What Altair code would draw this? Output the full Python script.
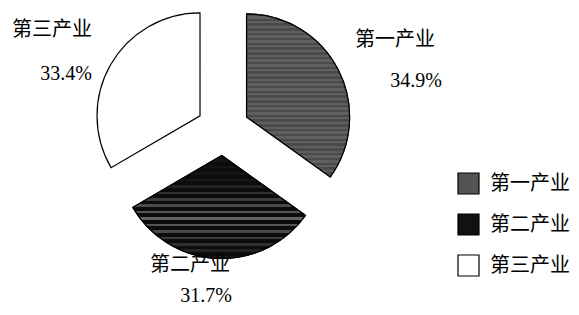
import altair as alt
import pandas as pd

# ---- data ----
categories = ["第一产业", "第二产业", "第三产业"]
shares = [34.9, 31.7, 33.4]
pct_labels = ["34.9%", "31.7%", "33.4%"]
order = [1, 2, 3]

# ---- layout (chart pixel coordinates) ----
CX, CY, R, EXPLODE = 215, 121, 103, 26.5
name_x = [427, 222, 84]
name_y = [32, 257, 22]
pct_x = [434, 224, 84]
pct_y = [72.5, 288, 65.5]

CJK = "Noto Sans CJK SC"
SERIF = "Liberation Serif"

df = pd.DataFrame({"cat": categories, "share": shares, "order": order})
lab = pd.DataFrame({"cat": categories, "pct": pct_labels,
                    "nx": name_x, "ny": name_y, "px": pct_x, "py": pct_y})


def stripes(n, dark, light_fn, frac=0.5):
    stops = []
    for i in range(n):
        a, b = i / n, (i + 1 - frac) / n
        c = (i + 1) / n
        lc = light_fn(i / max(n - 1, 1))
        stops += [alt.GradientStop(color=dark, offset=a),
                  alt.GradientStop(color=dark, offset=b),
                  alt.GradientStop(color=lc, offset=b),
                  alt.GradientStop(color=lc, offset=c)]
    return alt.LinearGradient(gradient="linear", stops=stops, x1=0, x2=0, y1=0, y2=1)


def mid_light(t):
    v = int(0x14 + (0x62 - 0x14) * max(0.0, 1 - abs(t - 0.6) * 2.4))
    return "#%02x%02x%02x" % (v, v, v)


grad2 = stripes(16, "#0c0c0c", mid_light, frac=0.4)
grad1 = stripes(34, "#4a4a4a", lambda t: "#5f5f5f")

base = (
    alt.Chart(df)
    .transform_window(cum="sum(share)", sort=[alt.SortField("order")], frame=[None, 0])
    .transform_joinaggregate(total="sum(share)")
    .transform_calculate(t0="2*PI*(datum.cum-datum.share)/datum.total",
                         t1="2*PI*datum.cum/datum.total")
    .transform_calculate(mid="(datum.t0+datum.t1)/2")
    .transform_calculate(cx=f"{CX}+{EXPLODE}*sin(datum.mid)",
                         cy=f"{CY}-{EXPLODE}*cos(datum.mid)")
)

enc = dict(theta=alt.Theta("t0:Q", scale=None), theta2="t1:Q",
           x=alt.X("cx:Q", scale=None), y=alt.Y("cy:Q", scale=None))

arcs = base.mark_arc(radius=R, stroke="black", strokeWidth=1.2).encode(
    fill=alt.Fill("cat:N",
                  scale=alt.Scale(domain=categories, range=["#545454", "#111111", "#ffffff"]),
                  legend=alt.Legend(orient="none", legendX=449, legendY=164, title=None,
                                    symbolType="square", symbolSize=441,
                                    labelFontSize=20, labelFont=CJK, labelColor="black",
                                    rowPadding=14, labelOffset=10, labelLimit=200,
                                    symbolStrokeColor="black", symbolStrokeWidth=1.2,
                                    symbolOpacity=1, padding=0)),
    **enc)

tex1 = base.transform_filter(alt.datum.cat == categories[0]).mark_arc(
    radius=R, fill=grad1, stroke="black", strokeWidth=1.2).encode(**enc)
tex2 = base.transform_filter(alt.datum.cat == categories[1]).mark_arc(
    radius=R, fill=grad2, stroke="black", strokeWidth=1.2).encode(**enc)

names = alt.Chart(lab).mark_text(align="right", baseline="middle", font=CJK,
                                 fontSize=20, color="black").encode(
    x=alt.X("nx:Q", scale=None), y=alt.Y("ny:Q", scale=None), text="cat:N")
pcts = alt.Chart(lab).mark_text(align="right", baseline="middle", font=SERIF,
                                fontSize=20, color="black").encode(
    x=alt.X("px:Q", scale=None), y=alt.Y("py:Q", scale=None), text="pct:N")

chart = (
    alt.layer(arcs, tex1, tex2, names, pcts)
    .properties(width=563, height=299, autosize="none", padding=0, background="white")
    .configure_view(stroke=None)
)

chart.save("out.html", embed_options={"renderer": "svg", "actions": False})
